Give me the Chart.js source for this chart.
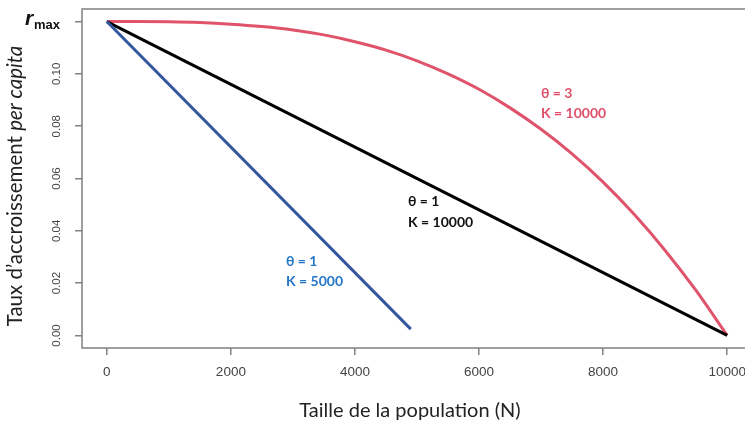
<!DOCTYPE html>
<html>
<head>
<meta charset="utf-8">
<script src="https://cdn.jsdelivr.net/npm/chart.js@4"></script>
<style>
  html, body { margin: 0; padding: 0; background: #fff; overflow: hidden; }
  #wrap { width: 752px; height: 423px; }
</style>
</head>
<body>
<div id="wrap"><canvas id="growth-chart"></canvas></div>
<script>
// values
const xTicks = [0, 2000, 4000, 6000, 8000, 10000];
const yTicks = [0, 0.02, 0.04, 0.06, 0.08, 0.10];
const yTickLabels = ['0.00', '0.02', '0.04', '0.06', '0.08', '0.10'];
const rMax = 0.12;

const blueN = [0, 4900];
const blueR = [0.12, 0.0024];

const blackN = [0, 10000];
const blackR = [0.12, 0];

const redN = [0, 500, 1000, 1500, 2000, 2500, 3000, 3500, 4000, 4500, 5000,
  5500, 6000, 6500, 7000, 7500, 8000, 8500, 9000, 9500, 10000];
const redR = [0.1200, 0.1200, 0.1199, 0.1196, 0.1190, 0.1181, 0.1168, 0.1149, 0.1123, 0.1091, 0.1050,
  0.1000, 0.0941, 0.0870, 0.0788, 0.0694, 0.0586, 0.0463, 0.0325, 0.0171, 0.0000];

function pts(xs, ys) {
  return xs.map((x, i) => ({ x: x, y: ys[i] }));
}

const labelFont = 'bold 14px Lato';

// box, rotated y labels, titles and annotations
const extras = {
  id: 'extras',
  afterDraw(chart) {
    const c = chart.ctx;
    const a = chart.chartArea;
    const ys = chart.scales.y;
    c.save();
    c.strokeStyle = '#808080';
    c.lineWidth = 1.5;
    c.strokeRect(a.left, a.top, a.right - a.left, a.bottom - a.top);

    // y tick labels, R style (rotated)
    c.fillStyle = '#444';
    c.font = '11.5px "Liberation Sans"';
    c.textAlign = 'center';
    c.textBaseline = 'middle';
    yTicks.forEach((v, i) => {
      c.save();
      c.translate(57, ys.getPixelForValue(v));
      c.rotate(-Math.PI / 2);
      c.fillText(yTickLabels[i], 0, 0);
      c.restore();
    });

    // r max label
    const yr = ys.getPixelForValue(rMax);
    c.fillStyle = '#111';
    c.textAlign = 'left';
    c.textBaseline = 'alphabetic';
    c.font = 'italic bold 21px "Liberation Sans"';
    c.fillText('r', 25, yr + 3);
    c.font = 'bold 13px "Liberation Sans"';
    c.fillText('max', 34, yr + 7);

    // y title
    c.save();
    c.translate(22, 186);
    c.rotate(-Math.PI / 2);
    c.fillStyle = '#222';
    const p1 = 'Taux d\u2019accroissement ';
    const p2 = 'per capita';
    c.font = '20.5px Lato';
    const w1 = c.measureText(p1).width;
    c.font = 'italic 20.5px Lato';
    const w2 = c.measureText(p2).width;
    const sx = -(w1 + w2) / 2;
    c.textAlign = 'left';
    c.font = '20.5px Lato';
    c.fillText(p1, sx, 0);
    c.font = 'italic 20.5px Lato';
    c.fillText(p2, sx + w1, 0);
    c.restore();

    // x title
    c.font = '20px Lato';
    c.fillStyle = '#222';
    c.textAlign = 'center';
    c.fillText('Taille de la population (N)', 410, 417);

    // curve annotations
    c.textAlign = 'left';
    c.font = labelFont;
    c.fillStyle = '#111';
    c.fillText('\u03b8 = 1', 408, 206);
    c.fillText('K = 10000', 408, 227);
    c.fillStyle = '#2477c6';
    c.fillText('\u03b8 = 1', 286, 266);
    c.fillText('K = 5000', 286, 286);
    c.fillStyle = '#e0506b';
    c.fillText('\u03b8 = 3', 541, 98);
    c.fillText('K = 10000', 541, 118);
    c.restore();
  }
};

new Chart(document.getElementById('growth-chart').getContext('2d'), {
  type: 'scatter',
  data: {
    datasets: [
      { label: 'theta 1, K 5000', data: pts(blueN, blueR), showLine: true,
        borderColor: '#34569f', borderWidth: 3, pointRadius: 0, fill: false },
      { label: 'theta 1, K 10000', data: pts(blackN, blackR), showLine: true,
        borderColor: '#000', borderWidth: 3, pointRadius: 0, fill: false },
      { label: 'theta 3, K 10000', data: pts(redN, redR), showLine: true,
        borderColor: '#df536b', borderWidth: 3, pointRadius: 0, fill: false,
        cubicInterpolationMode: 'monotone' }
    ]
  },
  options: {
    responsive: true,
    maintainAspectRatio: false,
    animation: false,
    layout: { padding: { top: 9, left: 0, right: 0, bottom: 0 } },
    plugins: { legend: { display: false }, tooltip: { enabled: false } },
    scales: {
      x: {
        type: 'linear',
        min: -400,
        max: 10400,
        afterBuildTicks: s => { s.ticks = xTicks.map(v => ({ value: v })); },
        afterFit: s => { s.height = 75; s.paddingLeft = 0; s.paddingRight = 0; },
        border: { display: false },
        grid: { drawOnChartArea: false, tickLength: 7, color: '#808080', lineWidth: 1.5 },
        ticks: { color: '#444', font: { family: 'Liberation Sans', size: 13.5 }, padding: 9,
          maxRotation: 0, autoSkip: false, callback: v => String(v) }
      },
      y: {
        type: 'linear',
        min: -0.0048,
        max: 0.1248,
        afterBuildTicks: s => { s.ticks = yTicks.concat([rMax]).map(v => ({ value: v })); },
        afterFit: s => { s.width = 82; s.paddingTop = 0; s.paddingBottom = 0; },
        border: { display: false },
        grid: { drawOnChartArea: false, tickLength: 7, color: '#808080', lineWidth: 1.5 },
        ticks: { display: false }
      }
    }
  },
  plugins: [extras]
});
</script>
</body>
</html>
